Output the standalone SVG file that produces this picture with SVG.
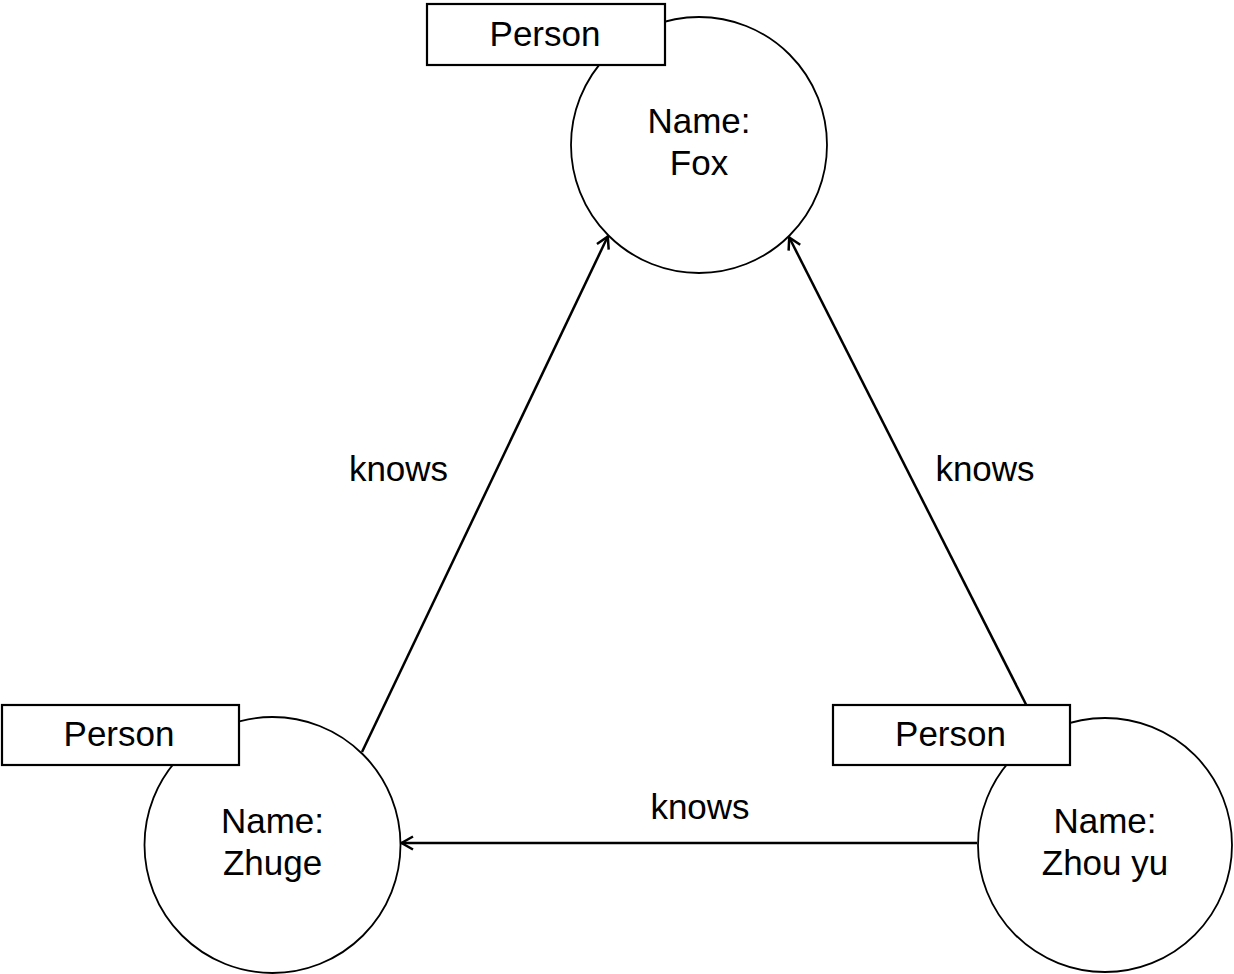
<svg xmlns="http://www.w3.org/2000/svg" width="1234" height="974" viewBox="0 0 1234 974">
<defs>
<style>
text{font-family:"Liberation Sans",Arial,Helvetica,sans-serif;font-size:35px;fill:#000;text-anchor:middle}
.node{fill:#fff;stroke:#000;stroke-width:1.8}
.tag{fill:#fff;stroke:#000;stroke-width:2.2}
.edge{fill:none;stroke:#000;stroke-width:2.5;marker-end:url(#open)}
</style>
<marker id="open" markerUnits="userSpaceOnUse" viewBox="0 0 14 16" refX="13" refY="8" markerWidth="14" markerHeight="16" orient="auto">
<path d="M1,1.5 L12.5,8 L1,14.5" fill="none" stroke="#000" stroke-width="2.5"/>
</marker>
</defs>
<rect width="1234" height="974" fill="#fff"/>
<g id="connectors">
<line class="edge" x1="362" y1="752" x2="608" y2="236"/>
<line class="edge" x1="1041" y1="734" x2="789" y2="237"/>
<line class="edge" x1="977" y1="843" x2="401" y2="843"/>
<text x="398.5" y="481">knows</text>
<text x="985" y="481">knows</text>
<text x="700" y="819">knows</text>
</g>
<g id="fox">
<circle class="node" cx="699" cy="145" r="128"/>
<text x="699" y="133">Name:</text>
<text x="699" y="175">Fox</text>
<rect class="tag" x="427" y="4" width="238" height="61"/>
<text x="545" y="46">Person</text>
</g>
<g id="zhuge">
<circle class="node" cx="272.5" cy="845" r="128"/>
<text x="272.5" y="833">Name:</text>
<text x="272.5" y="875">Zhuge</text>
<rect class="tag" x="2" y="705" width="237" height="60"/>
<text x="119" y="746">Person</text>
</g>
<g id="zhouyu">
<circle class="node" cx="1105" cy="845" r="127"/>
<text x="1105" y="833">Name:</text>
<text x="1105" y="875">Zhou yu</text>
<rect class="tag" x="833" y="705" width="237" height="60"/>
<text x="950.5" y="746">Person</text>
</g>
</svg>
